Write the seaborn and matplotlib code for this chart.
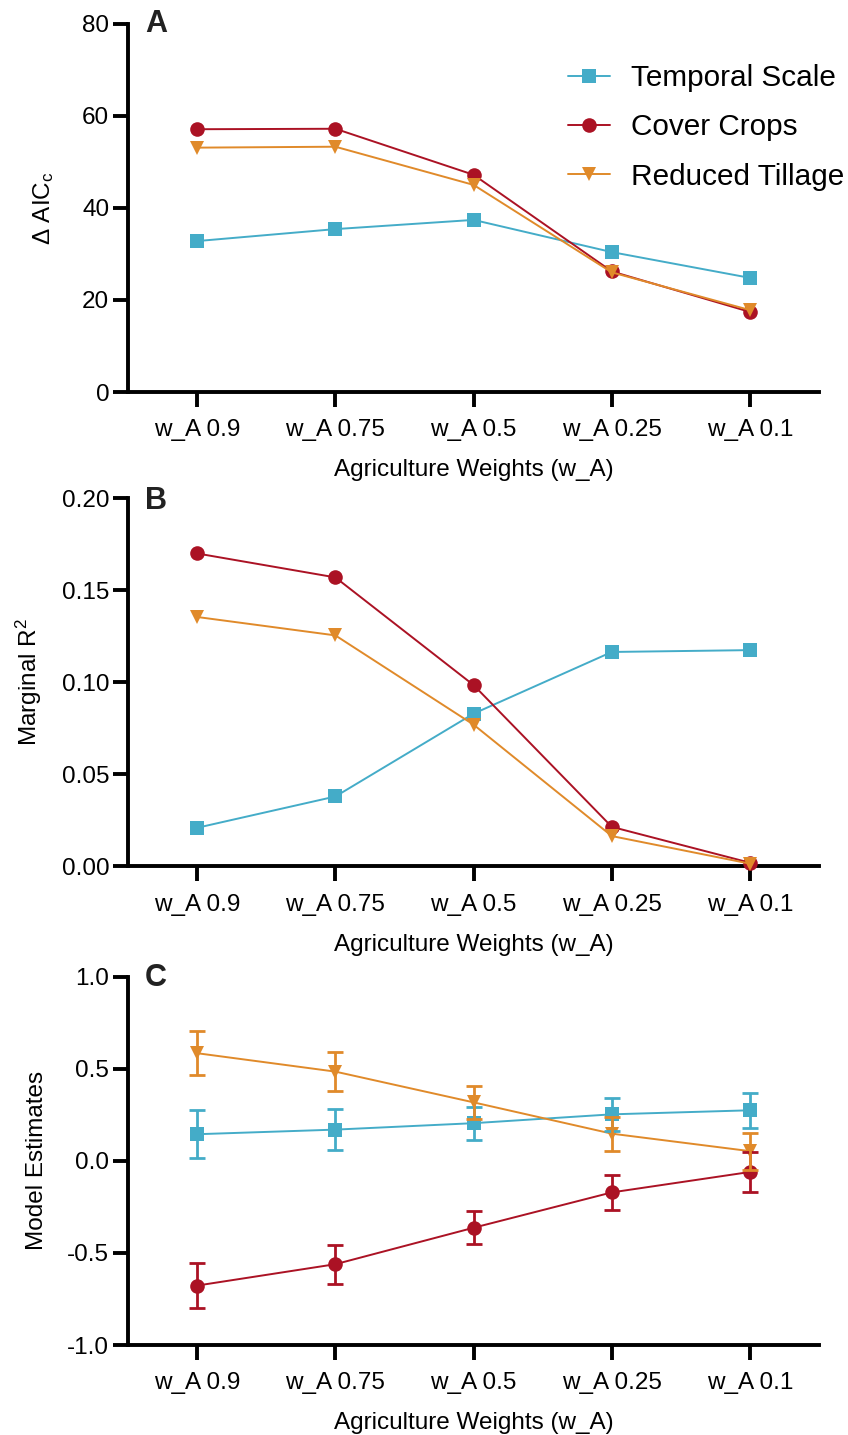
import numpy as np
import pandas as pd
import matplotlib
matplotlib.use("Agg")
import matplotlib.pyplot as plt
import seaborn as sns

# ---- data ----
weights = ["w_A 0.9", "w_A 0.75", "w_A 0.5", "w_A 0.25", "w_A 0.1"]
series = ["Temporal Scale", "Cover Crops", "Reduced Tillage"]

temporal_aic = [32.8, 35.4, 37.4, 30.4, 24.8]
cover_aic = [57.1, 57.2, 47.2, 26.2, 17.4]
tillage_aic = [53.1, 53.3, 45.0, 26.0, 17.8]

temporal_r2 = [0.021, 0.038, 0.083, 0.1165, 0.1175]
cover_r2 = [0.170, 0.157, 0.0985, 0.0215, 0.002]
tillage_r2 = [0.1355, 0.1255, 0.077, 0.0165, 0.0015]

temporal_est = [0.145, 0.170, 0.205, 0.253, 0.275]
temporal_err = [0.130, 0.110, 0.090, 0.088, 0.095]
cover_est = [-0.677, -0.561, -0.363, -0.171, -0.060]
cover_err = [0.120, 0.105, 0.090, 0.095, 0.108]
tillage_est = [0.585, 0.485, 0.318, 0.148, 0.053]
tillage_err = [0.120, 0.105, 0.090, 0.093, 0.100]

colors = {"Temporal Scale": "#44ACC8", "Cover Crops": "#AB1224", "Reduced Tillage": "#E08A2A"}
markers = {"Temporal Scale": "s", "Cover Crops": "o", "Reduced Tillage": "v"}

# ---- style ----
sns.set_theme(style="ticks")
plt.rcParams["font.family"] = ["Liberation Sans", "DejaVu Sans"]
plt.rcParams["mathtext.fontset"] = "custom"
plt.rcParams["mathtext.rm"] = "Liberation Sans"
plt.rcParams["mathtext.it"] = "Liberation Sans:italic"
plt.rcParams["axes.unicode_minus"] = False
plt.rcParams["axes.labelcolor"] = "black"
plt.rcParams["text.color"] = "black"

FS = 17.5
fig = plt.figure(figsize=(8.48, 14.35), dpi=100)

left, width, height = 0.151, 0.815, 0.2566
ax_a = fig.add_axes([left, 0.7268, width, height])
ax_b = fig.add_axes([left, 0.3962, width, height])
ax_c = fig.add_axes([left, 0.0627, width, height])


def long_frame(values):
    rows = []
    for name, vals in zip(series, values):
        for i, v in enumerate(vals):
            rows.append({"pos": i, "value": v, "series": name})
    return pd.DataFrame(rows)


def draw_lines(ax, values, with_labels=False):
    df = long_frame(values)
    for name in series:
        sub = df[df["series"] == name]
        sns.lineplot(data=sub, x="pos", y="value", ax=ax, color=colors[name],
                     marker=markers[name], markersize=10.5, markeredgewidth=0,
                     linewidth=1.4, errorbar=None, clip_on=False, zorder=3,
                     label=name if with_labels else None, legend=False)


def style_axis(ax, ylim, yticks, fmt):
    ax.set_xlim(-0.5, len(weights) - 0.5)
    ax.set_ylim(*ylim)
    ax.set_xticks(range(len(weights)))
    ax.set_xticklabels(weights)
    ax.set_yticks(yticks)
    ax.set_yticklabels([fmt.format(t) for t in yticks])
    sns.despine(ax=ax)
    for s in ("left", "bottom"):
        ax.spines[s].set_linewidth(2.8)
        ax.spines[s].set_color("black")
    ax.tick_params(axis="both", direction="out", length=10.5, width=2.8,
                   color="black", labelsize=FS, labelcolor="black")
    ax.tick_params(axis="y", pad=3)
    ax.tick_params(axis="x", pad=9)
    ax.set_xlabel("Agriculture Weights (w_A)", fontsize=FS, labelpad=13,
                  color="black")


# Panel A
draw_lines(ax_a, [temporal_aic, cover_aic, tillage_aic], with_labels=True)
style_axis(ax_a, (0, 80), [0, 20, 40, 60, 80], "{:.0f}")
ax_a.set_ylabel(r"$\Delta$ AIC$_\mathrm{c}$", fontsize=FS, color="black")
ax_a.yaxis.set_label_coords(-0.104, 0.5)
ax_a.legend(loc="upper left", bbox_to_anchor=(568 / 848, 1 - 64 / 1435),
            bbox_transform=fig.transFigure, frameon=False, fontsize=21.4,
            handlelength=1.4, handletextpad=0.72, labelspacing=0.72,
            borderpad=0, borderaxespad=0)

# Panel B
draw_lines(ax_b, [temporal_r2, cover_r2, tillage_r2])
style_axis(ax_b, (0, 0.20), [0, 0.05, 0.10, 0.15, 0.20], "{:.2f}")
ax_b.set_ylabel(r"Marginal R$^2$", fontsize=FS, color="black")
ax_b.yaxis.set_label_coords(-0.122, 0.5)

# Panel C
draw_lines(ax_c, [temporal_est, cover_est, tillage_est])
for name, est, err in zip(series, [temporal_est, cover_est, tillage_est],
                          [temporal_err, cover_err, tillage_err]):
    ax_c.errorbar(range(len(weights)), est, yerr=err, fmt="none",
                  ecolor=colors[name], elinewidth=2.0, capsize=5.5,
                  capthick=2.0, zorder=4)
style_axis(ax_c, (-1.0, 1.0), [-1.0, -0.5, 0.0, 0.5, 1.0], "{:.1f}")
ax_c.set_ylabel("Model Estimates", fontsize=FS, color="black")
ax_c.yaxis.set_label_coords(-0.116, 0.5)

# Panel letters
for letter, ypx in (("A", 9), ("B", 486), ("C", 963)):
    fig.text(145 / 848, 1 - ypx / 1435, letter, fontsize=22, fontweight="bold",
             color="#222222", ha="left", va="top")

fig.savefig("out.png", dpi=100)
